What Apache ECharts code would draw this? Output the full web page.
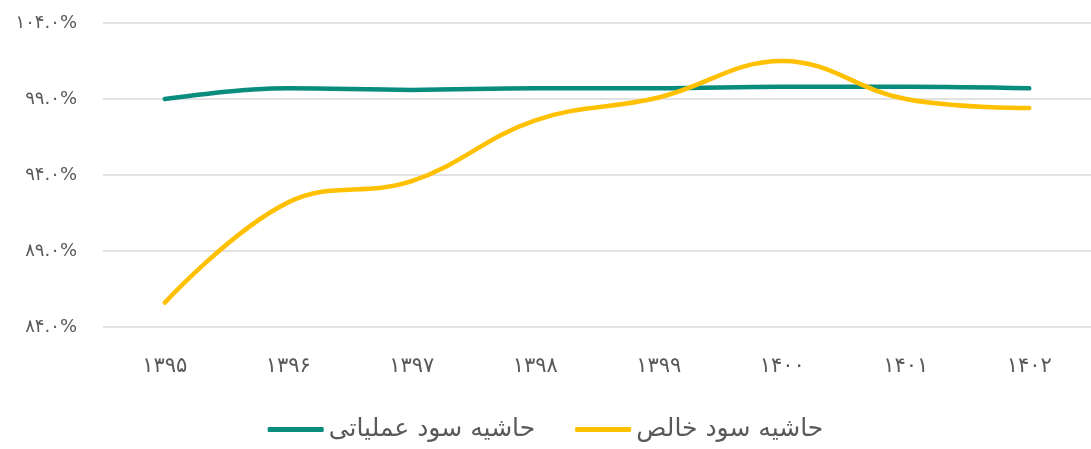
<!DOCTYPE html>
<html>
<head>
<meta charset="utf-8">
<script src="https://cdn.jsdelivr.net/npm/echarts@6/dist/echarts.min.js"></script>
<style>
  html, body { margin: 0; padding: 0; background: #fff; }
  #chart { width: 1091px; height: 449px; }
</style>
</head>
<body>
<div id="chart"></div>
<script>
// years (shamsi)
var years = ['1395', '1396', '1397', '1398', '1399', '1400', '1401', '1402']
var operatingMargin = [99.0, 99.7, 99.6, 99.7, 99.7, 99.8, 99.8, 99.7]
var netMargin = [85.6, 92.2, 93.6, 97.6, 99.1, 101.5, 99.0, 98.4]
var seriesNames = ['حاشیه سود عملیاتی', 'حاشیه سود خالص']

function toFa(s) {
  return String(s).replace(/[0-9]/g, function(d) {
    return '۰۱۲۳۴۵۶۷۸۹'[+d]
  })
}

var fontFamily = '"DejaVu Sans", sans-serif'
var chart = echarts.init(document.getElementById('chart'))
chart.setOption({
  animation: false,
  textStyle: { fontFamily: fontFamily },
  grid: {
    left: 103,
    right: 0,
    top: 23,
    bottom: 122
  },
  legend: {
    bottom: 2,
    left: 'center',
    itemWidth: 56,
    itemHeight: 5,
    itemGap: 40,
    icon: 'roundRect',
    textStyle: { fontSize: 25, color: '#595959', fontFamily: fontFamily },
    data: seriesNames
  },
  xAxis: {
    type: 'category',
    data: years,
    axisLine: { show: false },
    axisTick: { show: false },
    axisLabel: {
      margin: 29,
      fontSize: 21,
      color: '#595959',
      formatter: function(v) { return toFa(v) }
    }
  },
  yAxis: {
    type: 'value',
    min: 84,
    max: 104,
    interval: 5,
    axisLine: { show: false },
    axisTick: { show: false },
    axisLabel: {
      margin: 26,
      fontSize: 18,
      color: '#595959',
      formatter: function(v) { return toFa(v.toFixed(1)) + '%' }
    },
    splitLine: { lineStyle: { color: '#d9d9d9', width: 1.5 } }
  },
  series: [
    {
      name: seriesNames[0],
      type: 'line',
      smooth: 0.4,
      symbol: 'none',
      data: operatingMargin,
      itemStyle: { color: '#078c7d' },
      lineStyle: { color: '#078c7d', width: 4.5, cap: 'round' }
    },
    {
      name: seriesNames[1],
      type: 'line',
      smooth: 0.4,
      symbol: 'none',
      data: netMargin,
      itemStyle: { color: '#ffc000' },
      lineStyle: { color: '#ffc000', width: 4.5, cap: 'round' }
    }
  ]
})
</script>
</body>
</html>
